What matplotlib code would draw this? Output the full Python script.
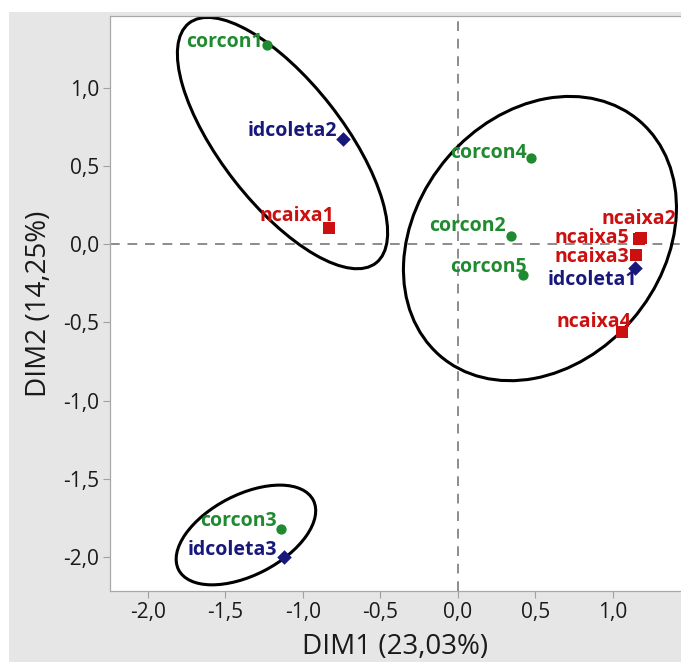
import matplotlib
matplotlib.use("Agg")
import matplotlib.pyplot as plt
from matplotlib.patches import Ellipse, Rectangle

# ---- data ----
corcon_labels = ["corcon1", "corcon2", "corcon3", "corcon4", "corcon5"]
corcon_x = [-1.23, 0.34, -1.14, 0.47, 0.42]
corcon_y = [1.27, 0.05, -1.82, 0.55, -0.20]

idcoleta_labels = ["idcoleta1", "idcoleta2", "idcoleta3"]
idcoleta_x = [1.14, -0.74, -1.12]
idcoleta_y = [-0.15, 0.67, -2.00]

ncaixa_labels = ["ncaixa1", "ncaixa2", "ncaixa3", "ncaixa4", "ncaixa5"]
ncaixa_x = [-0.83, 1.18, 1.15, 1.06, 1.17]
ncaixa_y = [0.10, 0.04, -0.07, -0.56, 0.035]

# label offsets (pixels) relative to the marker
corcon_off = [(-5, 3), (-5, 10), (-5, 8), (-4, 5), (4, 8)]
idcoleta_off = [(2, -12), (-6, 8), (-7, 7)]
ncaixa_off = [(5, 12), (35, 19), (-7, -2), (9, 10), (-10, 1)]

# group ellipses: centre x, centre y, width, height, angle
ell_cx = [-1.132, 0.529, -1.368]
ell_cy = [0.645, 0.035, -1.859]
ell_w = [1.95, 1.977, 0.976]
ell_h = [0.785, 1.579, 0.514]
ell_ang = [-51.7, 49.0, 27.0]

xticks = [-2.0, -1.5, -1.0, -0.5, 0.0, 0.5, 1.0]
yticks = [-2.0, -1.5, -1.0, -0.5, 0.0, 0.5, 1.0]

GREEN = "#1f8a30"
NAVY = "#18187a"
RED = "#cc1010"

plt.rcParams["font.family"] = ["Open Sans", "DejaVu Sans"]

W, H = 681, 662
fig = plt.figure(figsize=(W / 100, H / 100), dpi=100, facecolor="white")
fig.patches.append(Rectangle((9 / W, 0), 1 - 9 / W, (H - 12) / H,
                             transform=fig.transFigure, facecolor="#e6e6e6",
                             edgecolor="none", zorder=-10))

left, right, top, bottom = 110, 681, 16, 591
ax = fig.add_axes([left / W, (H - bottom) / H, (right - left) / W, (bottom - top) / H])
ax.set_facecolor("white")
ax.set_xlim(-2.245, 1.439)
ax.set_ylim(-2.217, 1.457)

ax.axhline(0, color="#8c8c8c", lw=1.4, ls=(0, (5, 4)), zorder=1)
ax.axvline(0, color="#8c8c8c", lw=1.4, ls=(0, (5, 4)), zorder=1)

for cx, cy, w, h, a in zip(ell_cx, ell_cy, ell_w, ell_h, ell_ang):
    ax.add_patch(Ellipse((cx, cy), w, h, angle=a, facecolor="none",
                         edgecolor="black", lw=2.2, zorder=2))

ax.scatter(corcon_x, corcon_y, marker="o", s=55, color=GREEN, zorder=4, linewidths=0)
ax.scatter(idcoleta_x, idcoleta_y, marker="D", s=55, color=NAVY, zorder=4, linewidths=0)
ax.scatter(ncaixa_x, ncaixa_y, marker="s", s=65, color=RED, zorder=4, linewidths=0)

def put_labels(labels, xs, ys, offs, color):
    for lab, x, y, (dx, dy) in zip(labels, xs, ys, offs):
        ax.annotate(lab, (x, y), xytext=(dx, dy), textcoords="offset pixels",
                    ha="right", va="center", color=color, fontsize=14,
                    fontweight="bold", zorder=5)

put_labels(corcon_labels, corcon_x, corcon_y, corcon_off, GREEN)
put_labels(idcoleta_labels, idcoleta_x, idcoleta_y, idcoleta_off, NAVY)
put_labels(ncaixa_labels, ncaixa_x, ncaixa_y, ncaixa_off, RED)

ax.set_xticks(xticks)
ax.set_xticklabels([f"{t:.1f}".replace(".", ",") for t in xticks])
ax.set_yticks(yticks)
ax.set_yticklabels([f"{t:.1f}".replace(".", ",") for t in yticks])
ax.tick_params(axis="both", direction="out", length=5, width=0.8, color="#a0a0a0",
               labelsize=15, labelcolor="#1a1a1a", pad=3)

for side in ["left", "bottom", "top"]:
    ax.spines[side].set_color("#a8a8a8")
    ax.spines[side].set_linewidth(0.9)
ax.spines["right"].set_visible(False)

ax.set_xlabel("DIM1 (23,03%)", fontsize=20, color="#1a1a1a", labelpad=7)
ax.set_ylabel("DIM2 (14,25%)", fontsize=20, color="#1a1a1a", labelpad=7)

fig.savefig("out.png", dpi=100, facecolor=fig.get_facecolor())
